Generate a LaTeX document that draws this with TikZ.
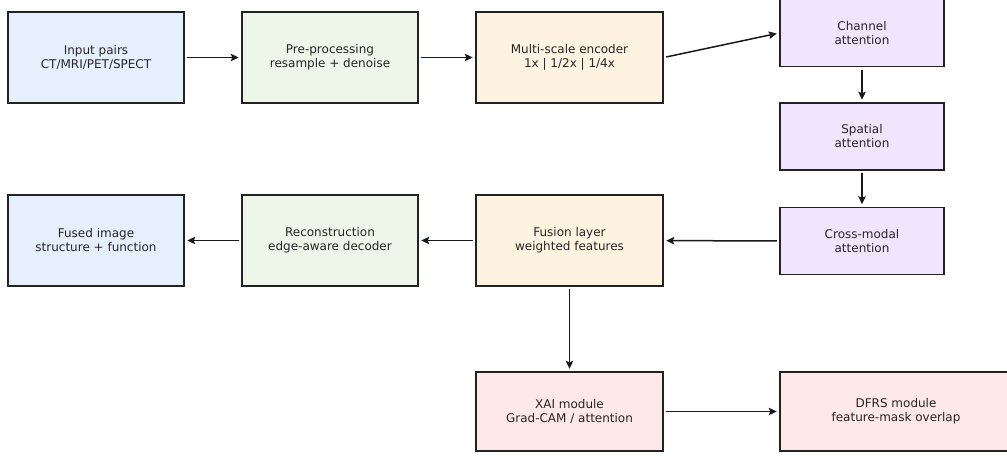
\documentclass[tikz,border=0pt]{standalone}
\usepackage{fontspec}
\setmainfont{DejaVu Sans}
\usetikzlibrary{arrows.meta}
\definecolor{cblue}{HTML}{E6EFFD}
\definecolor{cgreen}{HTML}{EEF5E9}
\definecolor{corange}{HTML}{FEF3E0}
\definecolor{cviolet}{HTML}{F0E5FD}
\definecolor{cpink}{HTML}{FDE7E7}
\definecolor{cedge}{HTML}{222222}
\definecolor{ctext}{HTML}{262626}
\tikzset{
  box/.style={draw=cedge, line width=1.5pt, rectangle, align=center, inner sep=0pt,
    font=\fontsize{12}{14}\selectfont, text=ctext},
  conn/.style={draw=black!90, line width=1.5pt, -{Stealth[length=8pt,width=7.5pt,inset=1.5pt]},
    shorten >=2.5pt, shorten <=2.5pt},
}
\begin{document}
\begin{tikzpicture}[x=1pt,y=-1pt]
\useasboundingbox (0,0) rectangle (1007,458);
% row 1
\node[box, fill=cblue, minimum width=176pt, minimum height=91pt] (in) at (96,57.5) {Input pairs\\CT/MRI/PET/SPECT};
\node[box, fill=cgreen, minimum width=176pt, minimum height=91pt] (pre) at (330,57.5) {Pre-processing\\resample + denoise};
\node[box, fill=corange, minimum width=187pt, minimum height=91pt] (enc) at (569.5,57.5) {Multi-scale encoder\\1x | 1/2x | 1/4x};
% attention column
\node[box, fill=cviolet, minimum width=164pt, minimum height=67pt] (ch) at (862,33) {Channel\\attention};
\node[box, fill=cviolet, minimum width=164pt, minimum height=67pt] (sp) at (862,136.5) {Spatial\\attention};
\node[box, fill=cviolet, minimum width=164pt, minimum height=67pt] (cm) at (862,241) {Cross-modal\\attention};
% row 2
\node[box, fill=corange, minimum width=187pt, minimum height=91pt] (fu) at (569.5,240.5) {Fusion layer\\weighted features};
\node[box, fill=cgreen, minimum width=176pt, minimum height=91pt] (rec) at (330,240.5) {Reconstruction\\edge-aware decoder};
\node[box, fill=cblue, minimum width=176pt, minimum height=91pt] (fused) at (96,240.5) {Fused image\\structure + function};
% row 3
\node[box, fill=cpink, minimum width=187pt, minimum height=79pt] (xai) at (569.5,411.5) {XAI module\\Grad-CAM / attention};
\node[box, fill=cpink, minimum width=232pt, minimum height=79pt] (dfrs) at (896,411.5) {DFRS module\\feature-mask overlap};
% connectors
\draw[conn] (in) -- (pre);
\draw[conn] (pre) -- (enc);
\draw[conn] (enc.east) -- (ch.west);
\draw[conn] (ch) -- (sp);
\draw[conn] (sp) -- (cm);
\draw[conn] (cm) -- (fu);
\draw[conn] (fu) -- (rec);
\draw[conn] (rec) -- (fused);
\draw[conn] (fu) -- (xai);
\draw[conn] (xai.east) -- (dfrs.west);
\end{tikzpicture}
\end{document}
